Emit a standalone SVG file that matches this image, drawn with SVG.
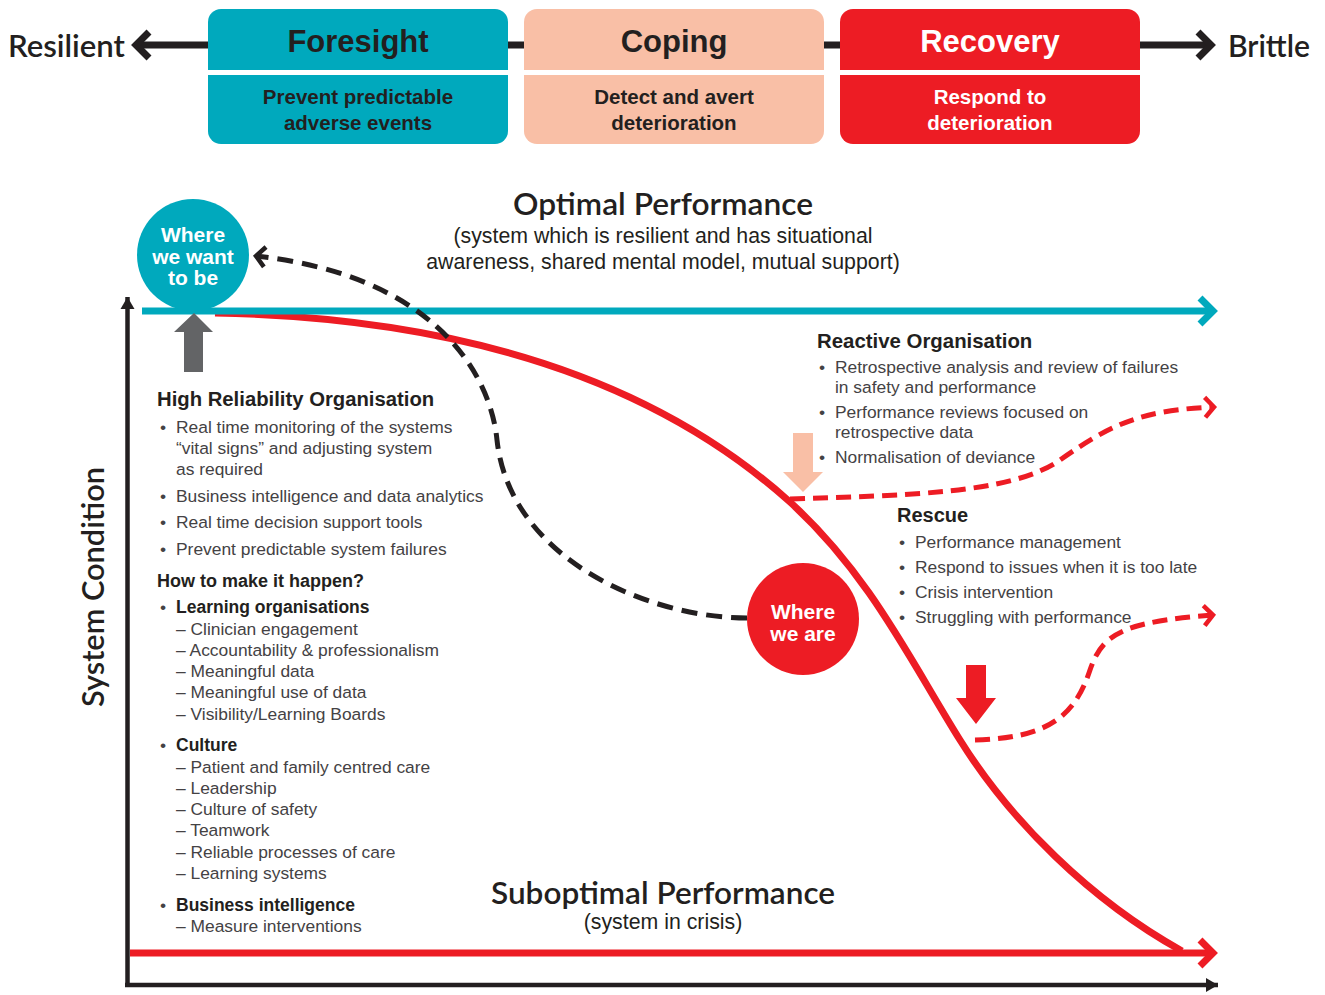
<svg xmlns="http://www.w3.org/2000/svg" width="1325" height="995" viewBox="0 0 1325 995">
<style>
.hdr{font-family:"Liberation Sans",Arial,sans-serif;font-weight:bold;font-size:31px;text-anchor:middle}
.sub{font-family:"Liberation Sans",Arial,sans-serif;font-weight:bold;font-size:20.5px;text-anchor:middle}
.dark{fill:#231f20}
.wht{fill:#ffffff}
.gill{font-family:Lato,"Open Sans",sans-serif;fill:#231f20;font-weight:600}
.circ{font-family:"Liberation Sans",Arial,sans-serif;font-weight:bold;font-size:21px;fill:#fff;text-anchor:middle}
.cap{font-family:"Liberation Sans",Arial,sans-serif;font-size:21.3px;fill:#231f20;text-anchor:middle}
.h{font-family:"Liberation Sans",Arial,sans-serif;font-weight:bold;fill:#231f20}
.b{font-family:"Liberation Sans",Arial,sans-serif;font-size:17.4px;fill:#444244}
.bb{font-family:"Liberation Sans",Arial,sans-serif;font-size:17.5px;font-weight:bold;fill:#231f20}
.dashR{fill:none;stroke:#ed1c24;stroke-width:5;stroke-dasharray:15 8}
.dashK{fill:none;stroke:#231f20;stroke-width:5;stroke-dasharray:16 9}
</style>
<defs>
<marker id="chevK" markerUnits="userSpaceOnUse" markerWidth="30" markerHeight="40" viewBox="0 0 30 40" refX="20" refY="20" orient="auto-start-reverse">
<path d="M7,7 L20,20 L7,33" fill="none" stroke="#231f20" stroke-width="7"/>
</marker>
<marker id="chevT" markerUnits="userSpaceOnUse" markerWidth="30" markerHeight="40" viewBox="0 0 30 40" refX="20" refY="20" orient="auto">
<path d="M7,7 L20,20 L7,33" fill="none" stroke="#00a9bd" stroke-width="7"/>
</marker>
<marker id="chevR" markerUnits="userSpaceOnUse" markerWidth="30" markerHeight="40" viewBox="0 0 30 40" refX="20" refY="20" orient="auto">
<path d="M7,7 L20,20 L7,33" fill="none" stroke="#ed1c24" stroke-width="7"/>
</marker>
<marker id="openR" markerUnits="userSpaceOnUse" markerWidth="24" markerHeight="28" viewBox="0 0 24 28" refX="15" refY="14" orient="auto">
<path d="M6,4 L15,14 L6,24" fill="none" stroke="#ed1c24" stroke-width="4.5"/>
</marker>
<marker id="openK" markerUnits="userSpaceOnUse" markerWidth="24" markerHeight="28" viewBox="0 0 24 28" refX="15" refY="14" orient="auto">
<path d="M6,4 L15,14 L6,24" fill="none" stroke="#231f20" stroke-width="4.5"/>
</marker>
<marker id="triK" markerUnits="userSpaceOnUse" markerWidth="16" markerHeight="16" viewBox="0 0 16 16" refX="13" refY="8" orient="auto">
<path d="M1,1 L13,8 L1,15 Z" fill="#231f20"/>
</marker>
</defs>

<g id="connectors">
<line x1="136" y1="45" x2="1211" y2="45" stroke="#231f20" stroke-width="7" marker-start="url(#chevK)" marker-end="url(#chevK)"/>
<line x1="127.5" y1="987" x2="127.5" y2="297" stroke="#231f20" stroke-width="4.5" marker-end="url(#triK)"/>
<line x1="125" y1="985" x2="1218" y2="985" stroke="#231f20" stroke-width="4.5" marker-end="url(#triK)"/>
<path d="M215,313 C470,318 660,385 790,502 C870,575 910,660 960,740 C1010,820 1090,900 1182,951" fill="none" stroke="#ed1c24" stroke-width="7"/>
<line x1="142" y1="311" x2="1213" y2="311" stroke="#00a9bd" stroke-width="7" marker-end="url(#chevT)"/>
<line x1="130" y1="953" x2="1213" y2="953" stroke="#ed1c24" stroke-width="7" marker-end="url(#chevR)"/>
<path class="dashR" d="M790,499 C900,495 1010,495 1060,460 C1110,425 1140,410 1214,407" marker-end="url(#openR)"/>
<path class="dashR" d="M975,740 C1050,738 1075,715 1090,670 C1102,635 1120,622 1213,615" marker-end="url(#openR)"/>
<path class="dashK" d="M747,618 C650,618 510,560 497,440 C490,370 430,275 256,256" marker-end="url(#openK)"/>
<path id="up-arrow" d="M184,372 L184,332 L174,332 L194,313 L213,332 L203,332 L203,372 Z" fill="#636466"/>
<path id="peach-arrow" d="M793,433 L813,433 L813,472 L823,472 L803,492 L783,472 L793,472 Z" fill="#f9bfa6"/>
<path id="red-arrow" d="M966,665 L986,665 L986,698 L996,698 L976,724 L956,698 L966,698 Z" fill="#ed1c24"/>
</g>

<g id="resilient-label"><text class="gill" x="8" y="57" font-size="30" textLength="117" lengthAdjust="spacingAndGlyphs">Resilient</text></g>
<g id="brittle-label"><text class="gill" x="1228" y="57" font-size="30" textLength="82" lengthAdjust="spacingAndGlyphs">Brittle</text></g>

<g id="foresight">
<rect x="208" y="9" width="300" height="135" rx="13" fill="#00a9bd"/>
<rect x="208" y="70" width="300" height="5" fill="#fff"/>
<text class="hdr dark" x="358" y="52">Foresight</text>
<text class="sub dark" x="358" y="104">Prevent predictable</text>
<text class="sub dark" x="358" y="130">adverse events</text>
</g>
<g id="coping">
<rect x="524" y="9" width="300" height="135" rx="13" fill="#f9bfa6"/>
<rect x="524" y="70" width="300" height="5" fill="#fff"/>
<text class="hdr dark" x="674" y="52">Coping</text>
<text class="sub dark" x="674" y="104">Detect and avert</text>
<text class="sub dark" x="674" y="130">deterioration</text>
</g>
<g id="recovery">
<rect x="840" y="9" width="300" height="135" rx="13" fill="#ed1c24"/>
<rect x="840" y="70" width="300" height="5" fill="#fff"/>
<text class="hdr wht" x="990" y="52">Recovery</text>
<text class="sub wht" x="990" y="104">Respond to</text>
<text class="sub wht" x="990" y="130">deterioration</text>
</g>

<g id="optimal">
<text class="gill" x="663" y="215" font-size="31" text-anchor="middle" textLength="300" lengthAdjust="spacingAndGlyphs">Optimal Performance</text>
<text class="cap" x="663" y="243">(system which is resilient and has situational</text>
<text class="cap" x="663" y="269">awareness, shared mental model, mutual support)</text>
</g>

<g id="where-we-want">
<circle cx="193" cy="255" r="56" fill="#00a9bd"/>
<text class="circ" x="193" y="242">Where</text>
<text class="circ" x="193" y="264">we want</text>
<text class="circ" x="193" y="285">to be</text>
</g>

<g id="where-we-are">
<circle cx="803" cy="619" r="56" fill="#ed1c24"/>
<text class="circ" x="803" y="619">Where</text>
<text class="circ" x="803" y="641">we are</text>
</g>

<g id="y-axis-label">
<text class="gill" transform="translate(104,587) rotate(-90)" font-size="30" text-anchor="middle" textLength="240" lengthAdjust="spacingAndGlyphs">System Condition</text>
</g>

<g id="hro-text">
<text class="h" x="157" y="406" font-size="20.3">High Reliability Organisation</text>
<text class="b" x="160" y="433">•</text><text class="b" x="176" y="433">Real time monitoring of the systems</text>
<text class="b" x="176" y="454">“vital signs” and adjusting system</text>
<text class="b" x="176" y="475">as required</text>
<text class="b" x="160" y="502">•</text><text class="b" x="176" y="502">Business intelligence and data analytics</text>
<text class="b" x="160" y="528">•</text><text class="b" x="176" y="528">Real time decision support tools</text>
<text class="b" x="160" y="555">•</text><text class="b" x="176" y="555">Prevent predictable system failures</text>
<text class="h" x="157" y="587" font-size="18">How to make it happen?</text>
<text class="b" x="160" y="613">•</text><text class="bb" x="176" y="613">Learning organisations</text>
<text class="b" x="176" y="635">– Clinician engagement</text>
<text class="b" x="176" y="656">– Accountability &amp; professionalism</text>
<text class="b" x="176" y="677">– Meaningful data</text>
<text class="b" x="176" y="698">– Meaningful use of data</text>
<text class="b" x="176" y="720">– Visibility/Learning Boards</text>
<text class="b" x="160" y="751">•</text><text class="bb" x="176" y="751">Culture</text>
<text class="b" x="176" y="773">– Patient and family centred care</text>
<text class="b" x="176" y="794">– Leadership</text>
<text class="b" x="176" y="815">– Culture of safety</text>
<text class="b" x="176" y="836">– Teamwork</text>
<text class="b" x="176" y="858">– Reliable processes of care</text>
<text class="b" x="176" y="879">– Learning systems</text>
<text class="b" x="160" y="911">•</text><text class="bb" x="176" y="911">Business intelligence</text>
<text class="b" x="176" y="932">– Measure interventions</text>
</g>

<g id="reactive">
<text class="h" x="817" y="348" font-size="20.4">Reactive Organisation</text>
<text class="b" x="819" y="373">•</text><text class="b" x="835" y="373">Retrospective analysis and review of failures</text>
<text class="b" x="835" y="393">in safety and performance</text>
<text class="b" x="819" y="418">•</text><text class="b" x="835" y="418">Performance reviews focused on</text>
<text class="b" x="835" y="438">retrospective data</text>
<text class="b" x="819" y="463">•</text><text class="b" x="835" y="463">Normalisation of deviance</text>
</g>

<g id="rescue">
<text class="h" x="897" y="522" font-size="20">Rescue</text>
<text class="b" x="899" y="548">•</text><text class="b" x="915" y="548">Performance management</text>
<text class="b" x="899" y="573">•</text><text class="b" x="915" y="573">Respond to issues when it is too late</text>
<text class="b" x="899" y="598">•</text><text class="b" x="915" y="598">Crisis intervention</text>
<text class="b" x="899" y="623">•</text><text class="b" x="915" y="623">Struggling with performance</text>
</g>

<g id="suboptimal">
<text class="gill" x="663" y="904" font-size="31" text-anchor="middle" textLength="344" lengthAdjust="spacingAndGlyphs">Suboptimal Performance</text>
<text class="cap" x="663" y="929">(system in crisis)</text>
</g>
</svg>
